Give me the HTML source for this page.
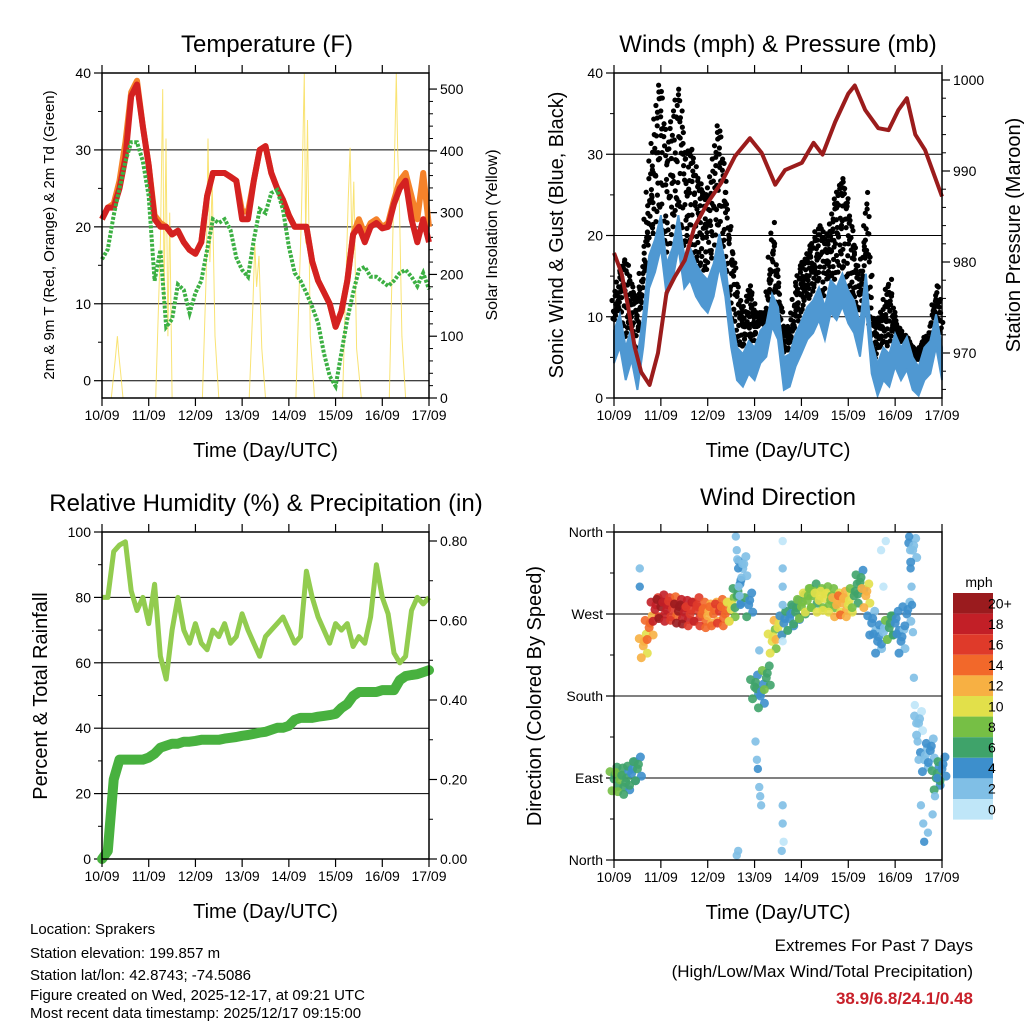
<!DOCTYPE html>
<html><head><meta charset="utf-8"><style>
html,body{margin:0;padding:0;background:#fff;}
svg{display:block;font-family:"Liberation Sans",sans-serif;}
</style></head><body>
<svg id="c" width="1024" height="1024" viewBox="0 0 1024 1024" xmlns="http://www.w3.org/2000/svg">
<rect width="1024" height="1024" fill="#fff"/>
<g id="g"></g>
<g font-size="15" fill="#000">
<text x="30" y="934">Location: Sprakers</text>
<text x="30" y="958">Station elevation: 199.857 m</text>
<text x="30" y="980">Station lat/lon: 42.8743; -74.5086</text>
<text x="30" y="1000">Figure created on Wed, 2025-12-17, at 09:21 UTC</text>
<text x="30" y="1018">Most recent data timestamp: 2025/12/17 09:15:00</text>
</g>
<g font-size="17" text-anchor="end">
<text x="973" y="951">Extremes For Past 7 Days</text>
<text x="973" y="977">(High/Low/Max Wind/Total Precipitation)</text>
<text x="973" y="1004" font-weight="bold" fill="#c8202a">38.9/6.8/24.1/0.48</text>
</g>
</svg>
<script>
const dayLabels=["10/09","11/09","12/09","13/09","14/09","15/09","16/09","17/09"];
// 3-hourly series (index i -> day i/8)
const temp2m=[21,22.5,22.5,25,29,37,38.5,33,28,21,20,20,19,19.5,18,17,16.5,18,24,27,27,27,26.5,26,21,21,26,30,30.5,27,25,23.5,21.5,20,20,20,15.5,13,11.5,10,7,9,13,19,20,18,20,20.5,19.8,20,23,25,26,21,18,21,18];
const temp9m=[21,22.5,23,26,31,37.5,39,33,28,21.5,20.5,20,19,19.5,18,17,16.5,18,24,27,27,27,26.5,26,22,22,26,30,30.5,27,25,23.5,21.5,20,20,20,15.5,13,11.5,10,7,9,13,19,21,19,20.5,21,20,20.5,23.5,26,27,24,21,27,20];
const dew2m=[15.8,17.1,21.5,25,28.5,31,31,28.5,24,13,17,7,8,12.5,11.8,8.8,11.4,13,17,21,20.5,21,19.6,16,14.4,13.5,18.3,22.3,21.8,24.4,24.8,22.2,17.4,14,13,11.4,9.6,7.5,3.6,0.6,-0.7,3.6,8,11.4,14.4,14.8,13.5,13.5,12.9,12.3,13,14,14.4,13.5,12.3,14,11.9];
const solarT=[0.2,0.28,0.33,0.36,0.4,0.45,1.15,1.25,1.3,1.33,1.37,1.41,1.45,1.5,1.55,2.15,2.23,2.27,2.31,2.36,2.42,2.5,3.15,3.23,3.27,3.31,3.36,3.42,3.5,4.15,4.27,4.33,4.36,4.4,4.46,4.55,5.15,5.27,5.31,5.35,5.39,5.45,5.55,6.15,6.25,6.3,6.33,6.37,6.42,6.5];
const solarV=[0,60,100,70,40,0,0,250,500,150,420,100,300,0,0,0,200,420,220,350,100,0,0,150,250,180,230,80,0,0,300,525,250,450,100,0,0,320,405,250,350,80,0,0,350,525,400,300,100,0];
const wind=[6.8,8.8,4.7,7.2,3.5,8.8,16,18,21,15,17,21,16,17,15,13.8,13,15,18.7,15,8.8,4.7,3.9,5.5,4.7,6.8,7.6,11.3,9.7,3.5,3.9,6.4,8,9.7,10.5,12.1,9.7,13,12.1,13.8,11.7,10.5,7.6,13.8,5.5,2.7,4.7,3.9,6.4,4.7,6,3.5,2.3,4.7,5.5,8.8,4.7];
const gust=[12,15.4,17,13,12,17,27,33.5,38.5,29,34,38,30,30.6,27.4,25.3,24.5,28.6,33.5,25.3,19,13,10,13.8,10.5,10.5,8.8,21.6,13.8,7.6,8.8,13.8,16.3,17.5,19,21.2,19,20.8,24.5,27,23.3,17.9,13,25.3,10,8.8,10.9,14.6,9.3,8,6.8,6,5.5,7.6,6.8,13.8,8.8];
const presT=[0,0.16,0.3,0.44,0.58,0.76,0.94,1.12,1.3,1.51,1.72,2.0,2.29,2.58,2.9,3.15,3.44,3.65,4.01,4.26,4.45,4.72,5.0,5.14,5.36,5.64,5.86,6.07,6.25,6.43,6.64,7.0];
const presV=[981,978.8,975.1,970.7,967.9,966.5,970,976.6,978.4,980.2,983.9,986.5,988.7,991.6,993.6,992,988.5,990.1,990.9,993.1,991.8,995.4,998.5,999.4,996.7,994.7,994.5,996.7,998,994,992.3,987.2];
const rh=[80,80,94,96,97,82,76,80,72,84,62,55,70,80,70,66,72,66,64,70,68,72,66,68,75,70,66,62,68,70,72,74,70,66,68,88,80,74,70,66,72,70,72,65,68,66,74,90,80,75,63,60,62,76,80,78,80];
const precip=[0,0.02,0.2,0.25,0.25,0.25,0.25,0.25,0.255,0.265,0.28,0.285,0.29,0.29,0.295,0.295,0.297,0.3,0.3,0.3,0.3,0.303,0.305,0.307,0.31,0.312,0.315,0.318,0.32,0.325,0.33,0.33,0.335,0.35,0.355,0.355,0.355,0.358,0.36,0.362,0.365,0.38,0.39,0.41,0.42,0.42,0.42,0.42,0.425,0.425,0.425,0.45,0.46,0.463,0.465,0.47,0.475];
const dirMain=[89,88,85,95,100,235,255,275,278,275,276,273,272,270,275,270,268,270,273,270,275,290,320,280,190,180,200,240,255,260,265,272,278,285,290,285,287,285,280,282,280,290,305,290,260,240,250,255,260,240,270,340,150,110,120,90,100];
const spdMain=[7,8,6,5,6,12,14,18,20,18,16,20,19,16,17,15,13,14,16,14,10,6,3,5,6,5,7,10,11,4,5,6,8,9,8,10,10,9,12,13,11,7,6,12,4,4,3,7,5,4,4,3,2,3,4,6,5];
const dirXT=[2.6,2.62,2.63,2.65,2.66,2.68,2.7,2.72,2.74,2.62,2.65,3.02,3.05,3.07,3.1,3.12,3.14,3.6,3.6,3.6,3.6,3.6,3.6,3.6,3.62,3.58,6.3,6.32,6.33,6.35,6.36,6.38,6.4,6.42,6.45,6.48,6.5,6.55,6.6,6.62,6.7,6.8,6.85,6.9,0.55,0.55,5.7,5.75,5.8,3.1];
const dirXD=[355,340,330,320,300,290,280,310,325,5,10,130,110,100,80,70,60,350,320,300,280,240,60,40,20,10,355,340,320,300,280,250,200,170,150,130,110,60,40,20,30,50,70,90,320,300,340,300,350,230];
const dirXS=[3,3,2,4,3,2,4,3,2,3,2,3,2,4,3,2,3,1,2,3,2,1,3,2,1,2,4,3,4,3,4,3,2,1,2,3,2,3,2,4,3,2,3,4,3,4,1,1,1,2];
const speedLabels=["0","2","4","6","8","10","12","14","16","18","20+"];
const speedColors=["#bfe6f8","#80bfe6","#3d8fcc","#3fa36a","#76bf45","#e2e04a","#f7b043","#f2682a","#df3a2a","#c21f27","#9a1b1e"];

const NS="http://www.w3.org/2000/svg";
const G=document.getElementById('g');
function mk(tag,at,parent){const e=document.createElementNS(NS,tag);for(const k in at)e.setAttribute(k,at[k]);(parent||G).appendChild(e);return e;}
function txt(s,at,parent){const e=mk('text',at,parent);e.textContent=s;return e;}
function scale(d0,d1,r0,r1){return v=>r0+(v-d0)*(r1-r0)/(d1-d0);}

const P1={x0:102,x1:429,y0:73,y1:398},P2={x0:614,x1:942,y0:73,y1:398},P3={x0:102,x1:429,y0:532,y1:859},P4={x0:614,x1:942,y0:532,y1:860};
function xs(p){return scale(0,7,p.x0,p.x1);}

function frame(p,name){
  const r=mk('rect',{x:p.x0,y:p.y0,width:p.x1-p.x0,height:p.y1-p.y0,fill:'none',stroke:'#000','stroke-width':1.5});
  
  
  const X=xs(p);
  dayLabels.forEach((l,i)=>{
    const x=X(i);
    mk('line',{x1:x,x2:x,y1:p.y1,y2:p.y1+8,stroke:'#000','stroke-width':1.2});
    mk('line',{x1:x,x2:x,y1:p.y0,y2:p.y0-8,stroke:'#000','stroke-width':1.2});
    const t=txt(l,{x:x,y:p.y1+22,'font-size':14,'text-anchor':'middle'});
    
    
  });
  const t=txt('Time (Day/UTC)',{x:(p.x0+p.x1)/2,y:p.y1+59,'font-size':20,'text-anchor':'middle'});
  
  
}
function yTicks(p,S,vals,labels,side,name,minor,grid){
  vals.forEach((v,i)=>{
    const y=S(v);
    if(grid) mk('line',{x1:p.x0,x2:p.x1,y1:y,y2:y,stroke:'#000','stroke-width':1});
    const x=side==='l'?p.x0:p.x1, d=side==='l'?-8:8;
    mk('line',{x1:x,x2:x+d,y1:y,y2:y,stroke:'#000','stroke-width':1.2});
    const t=txt(labels[i],{x:side==='l'?x-11:x+11,y:y+5,'font-size':14,'text-anchor':side==='l'?'end':'start'});
    
    
  });
  (minor||[]).forEach(v=>{const y=S(v);const x=side==='l'?p.x0:p.x1,d=side==='l'?-4:4;mk('line',{x1:x,x2:x+d,y1:y,y2:y,stroke:'#000','stroke-width':1});});
}
function vtitle(s,x,y,size,name){
  const t=txt(s,{x:x,y:y,'font-size':size,'text-anchor':'middle',transform:`rotate(-90 ${x} ${y})`});
  
  
}
function title(s,x,y,name){const t=txt(s,{x:x,y:y,'font-size':24,'text-anchor':'middle'});}
function path(pts){return pts.map((p,i)=>(i?'L':'M')+p[0].toFixed(1)+' '+p[1].toFixed(1)).join(' ');}

// ---- Panel 1: Temperature
(function(){
  const p=P1,X=xs(p),Y=scale(-2.25,40,p.y1,p.y0),S=scale(0,526,p.y1,p.y0);
  yTicks(p,Y,[0,10,20,30,40],["0","10","20","30","40"],'l','temp-y',[5,15,25,35],true);
  yTicks(p,S,[0,100,200,300,400,500],["0","100","200","300","400","500"],'r','solar-y',[20,40,60,80,120,140,160,180,220,240,260,280,320,340,360,380,420,440,460,480],false);
  const sol=mk('path',{d:path(solarT.map((t,i)=>[X(t),S(solarV[i])])),fill:'none',stroke:'#f8dc50','stroke-width':1,opacity:0.8});
  
  
  const o=mk('path',{d:path(temp9m.map((v,i)=>[X(i/8),Y(v)])),fill:'none',stroke:'#f5822a','stroke-width':6,'stroke-linejoin':'round'});
  
  
  const r=mk('path',{d:path(temp2m.map((v,i)=>[X(i/8),Y(v)])),fill:'none',stroke:'#d42121','stroke-width':6,'stroke-linejoin':'round'});
  
  
  const g=mk('path',{d:path(dew2m.map((v,i)=>[X(i/8),Y(v)])),fill:'none',stroke:'#3cb043','stroke-width':4,'stroke-dasharray':'3 1.6'});
  
  
  frame(p,'temp');
  title('Temperature (F)',267,52,'temp-title');
  vtitle('2m & 9m T (Red, Orange) & 2m Td (Green)',54,235,15,'temp-y-axis-title');
  vtitle('Solar Insolation (Yellow)',497,235,16,'solar-y-axis-title');
})();

// ---- Panel 2: Winds & Pressure
(function(){
  const p=P2,X=xs(p),Y=scale(0,40,p.y1,p.y0),Pr=scale(970,1000,353,80);
  yTicks(p,Y,[0,10,20,30,40],["0","10","20","30","40"],'l','wind-y',[5,15,25,35],true);
  yTicks(p,Pr,[970,980,990,1000],["970","980","990","1000"],'r','pressure-y',[966,968,972,974,976,978,982,984,986,988,992,994,996,998],false);
  const jit=[0.1,0.55,0.3,0.85,0.2,0.7,0.45,0.95,0.05,0.6];
  const dots=mk('g',{fill:'#000'});
  
  
  for(let i=0;i<gust.length-1;i++){
    for(let k=0;k<6;k++){
      const f=k/6,t=(i+f)/8;
      const w=wind[i]+(wind[i+1]-wind[i])*f, gu=gust[i]+(gust[i+1]-gust[i])*f;
      for(let m=0;m<4;m++){
        const a=jit[(i*7+k*3+m)%10];
        const v=m===0?gu:w+2+(gu-w-2)*a;
        mk('circle',{cx:X(t)+(jit[(i+k+m)%10]-0.5)*5,cy:Y(v),r:2.6},dots);
      }
    }
  }
  const up=wind.map((v,i)=>[X(i/8),Y(v+1.5)]), lo=wind.map((v,i)=>[X(i/8),Y(Math.max(0.3,v-2.5))]).reverse();
  const b=mk('path',{d:path(up.concat(lo))+'Z',fill:'#4f98d2',stroke:'#4f98d2','stroke-width':2});
  
  
  const pr=mk('path',{d:path(presT.map((t,i)=>[X(t),Pr(presV[i])])),fill:'none',stroke:'#9b1c1c','stroke-width':4,'stroke-linejoin':'round'});
  
  
  frame(p,'wind');
  title('Winds (mph) & Pressure (mb)',778,52,'wind-title');
  vtitle('Sonic Wind & Gust (Blue, Black)',563,235,20,'wind-y-axis-title');
  vtitle('Station Pressure (Maroon)',1020,235,20,'pressure-y-axis-title');
})();

// ---- Panel 3: RH & Precip
(function(){
  const p=P3,X=xs(p),Y=scale(0,100,p.y1,p.y0),R=scale(0,0.8,859,541);
  yTicks(p,Y,[0,20,40,60,80,100],["0","20","40","60","80","100"],'l','rh-y',[10,30,50,70,90],true);
  yTicks(p,R,[0,0.2,0.4,0.6,0.8],["0.00","0.20","0.40","0.60","0.80"],'r','precip-y',[0.1,0.3,0.5,0.7],false);
  const h=mk('path',{d:path(rh.map((v,i)=>[X(i/8),Y(v)])),fill:'none',stroke:'#92cc4f','stroke-width':5,'stroke-linejoin':'round'});
  
  
  const pc=mk('path',{d:path(precip.map((v,i)=>[X(i/8),R(v)])),fill:'none',stroke:'#48b13f','stroke-width':10,'stroke-linejoin':'round','stroke-linecap':'round'});
  
  
  frame(p,'rh');
  title('Relative Humidity (%) & Precipitation (in)',266,511,'rh-title');
  vtitle('Percent & Total Rainfall',47,696,20,'rh-y-axis-title');
})();

// ---- Panel 4: Wind direction
(function(){
  const p=P4,X=xs(p),Y=scale(0,360,p.y1,p.y0);
  yTicks(p,Y,[0,90,180,270,360],["North","East","South","West","North"],'l','dir-y',[45,135,225,315],true);
  function col(s){return speedColors[Math.max(0,Math.min(10,Math.floor(s/2)))];}
  const g=mk('g',{});
  
  
  const pat=[[0,0,0],[-4,8,1],[4,-8,-1],[-2,-13,1],[3,13,-1],[1,5,0]];
  dirMain.forEach((d,i)=>{
    pat.forEach(q=>{
      const dd=Math.max(0,Math.min(360,d+q[1]));
      mk('circle',{cx:X(i/8)+q[0],cy:Y(dd),r:4.5,fill:col(spdMain[i]+q[2]),opacity:0.9},g);
    });
  });
  dirXT.forEach((t,i)=>{
    mk('circle',{cx:X(t),cy:Y(dirXD[i]),r:4.2,fill:col(dirXS[i]),opacity:0.9},g);
  });
  frame(p,'dir');
  title('Wind Direction',778,505,'dir-title');
  vtitle('Direction (Colored By Speed)',541,696,20,'dir-y-axis-title');
  const top=593,h=20.6;
  const mph=txt('mph',{x:979,y:587,'font-size':14,'text-anchor':'middle'});
  
  
  for(let k=0;k<11;k++){
    const idx=10-k;
    const r=mk('rect',{x:953,y:top+k*h,width:40,height:h,fill:speedColors[idx]});
    
    
    const t=txt(speedLabels[idx],{x:988,y:top+k*h+h/2+5,'font-size':14,'text-anchor':'start'});
    
    
  }
})();
</script>
</body></html>
